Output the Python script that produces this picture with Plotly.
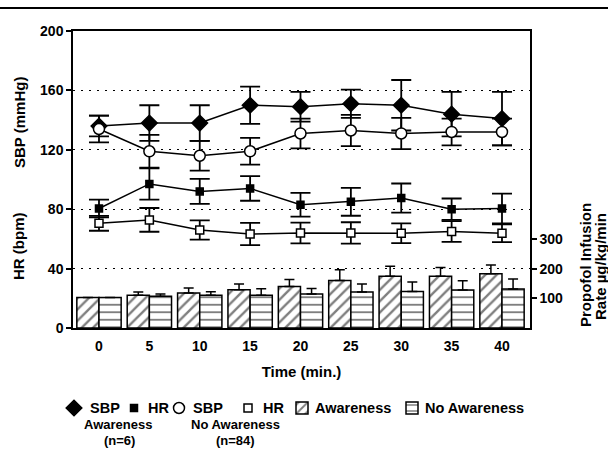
import plotly.graph_objects as go

# ---------------- data ----------------
time_min = [0, 5, 10, 15, 20, 25, 30, 35, 40]

sbp_aware = [136, 138, 138, 150, 149, 151, 150, 144, 141]
sbp_aware_err = [7, 12, 12, 12.5, 10, 9.5, 17, 15, 18]
hr_aware = [80.5, 97, 92, 94, 83, 85, 87.5, 80, 80.5]
hr_aware_err = [6, 10.5, 8.4, 8.3, 8, 9.4, 9.8, 7.2, 10]

sbp_noaware = [134, 119, 116, 119, 131, 133, 131, 132, 132]
sbp_noaware_err = [9, 11, 10, 9, 10, 10.5, 10.5, 9, 9]
hr_noaware = [70.5, 72.8, 66, 63.3, 64, 64, 63.8, 65, 63.8]
hr_noaware_err = [5, 8, 6.5, 7.5, 7, 7.2, 6.7, 7, 6]

rate_aware = [103, 110, 118, 129, 140, 160, 174, 174, 183]
rate_aware_top = [103, 121, 135, 148, 163, 196, 208, 204, 212]
rate_noaware = [103, 106.5, 110, 110, 114.6, 121, 123, 128, 131]
rate_noaware_top = [103, 114.6, 122, 132, 133, 148, 155, 159, 165]

left_ticks = [0, 40, 80, 120, 160, 200]
right_ticks = [100, 200, 300]

legend_labels = ["SBP", "HR", "SBP", "HR", "Awareness", "No Awareness"]

FONT = "Liberation Sans, Arial, sans-serif"
BLACK = "#000000"

# plot-area geometry in pixels (for placing text in paper coords)
L, R, T, B = 73, 530, 31, 328
W, H = R - L, B - T


def px(x):
    return (x - L) / W


def py(y):
    return (B - y) / H


fig = go.Figure()

# ---------------- bars (propofol infusion rate, right axis) ----------------
fig.add_trace(go.Bar(
    x=time_min, y=rate_aware, name=" ", yaxis="y2", legend="legend5",
    marker=dict(color="white", line=dict(color=BLACK, width=1.5),
                pattern=dict(shape="/", fgcolor=BLACK, bgcolor="white", size=8, solidity=0.3)),
    error_y=dict(type="data", symmetric=False,
                 array=[t - v for t, v in zip(rate_aware_top, rate_aware)],
                 arrayminus=[0] * len(rate_aware), color=BLACK, thickness=1.5, width=5),
))
fig.add_trace(go.Bar(
    x=time_min, y=rate_noaware, name=" ", yaxis="y2", legend="legend6",
    marker=dict(color="white", line=dict(color=BLACK, width=1.5),
                pattern=dict(shape="-", fgcolor=BLACK, bgcolor="white", size=7.5, solidity=0.25)),
    error_y=dict(type="data", symmetric=False,
                 array=[t - v for t, v in zip(rate_noaware_top, rate_noaware)],
                 arrayminus=[0] * len(rate_noaware), color=BLACK, thickness=1.5, width=5),
))

# ---------------- lines (left axis) ----------------
for y in (hr_noaware, hr_aware, sbp_noaware, sbp_aware):
    fig.add_trace(go.Scatter(x=time_min, y=y, mode="lines", yaxis="y", showlegend=False,
                             line=dict(color=BLACK, width=1.5), hoverinfo="skip"))


def marker_trace(y, err, symbol, size, fill, legend):
    return go.Scatter(
        x=time_min, y=y, name=" ", mode="markers", yaxis="y", legend=legend,
        marker=dict(symbol=symbol, size=size, color=fill, line=dict(color=BLACK, width=1.5)),
        error_y=dict(type="data", array=err, color=BLACK, thickness=1.8, width=10),
    )


fig.add_trace(marker_trace(sbp_aware, sbp_aware_err, "diamond", 12, BLACK, "legend"))
fig.add_trace(marker_trace(hr_aware, hr_aware_err, "square", 7, BLACK, "legend2"))
fig.add_trace(marker_trace(hr_noaware, hr_noaware_err, "square", 8, "white", "legend4"))
fig.add_trace(marker_trace(sbp_noaware, sbp_noaware_err, "circle", 11, "white", "legend3"))

# ---------------- key: native legend symbols, one legend per entry ----------------
LEG_Y = 408
symbol_centers = [74, 134, 179, 248, 302, 412]
text_starts = [88, 146, 191, 261, 313, 423]
legend_keys = ["legend", "legend2", "legend3", "legend4", "legend5", "legend6"]
legend_layout = {}
for key, cx in zip(legend_keys, symbol_centers):
    legend_layout[key] = dict(
        orientation="h", x=px(cx - 20), xanchor="left", y=py(LEG_Y), yanchor="middle",
        font=dict(size=12, color=BLACK, family=FONT),
        itemwidth=30, bgcolor="rgba(0,0,0,0)", borderwidth=0,
    )

fig.update_layout(
    width=608, height=463,
    margin=dict(l=L, r=608 - R, t=T, b=463 - B),
    paper_bgcolor="white", plot_bgcolor="white",
    font=dict(family=FONT, size=14, color=BLACK, weight="bold"),
    barmode="group", bargap=0.12, bargroupgap=0,
    showlegend=True,
    xaxis=dict(range=[-2.58, 42.78], tickvals=time_min, ticks="", showgrid=False,
               zeroline=False, showline=True, linecolor=BLACK, linewidth=1.5, mirror=True,
               ticklabelstandoff=4,
               title=dict(text="Time (min.)", font=dict(size=15, weight="bold"), standoff=14),
               tickfont=dict(size=14, weight="bold")),
    yaxis=dict(range=[0, 200], tickvals=left_ticks, ticks="outside", ticklen=5,
               tickcolor=BLACK, tickwidth=1.5,
               showline=True, linecolor=BLACK, linewidth=1.5, zeroline=False,
               showgrid=True, gridcolor=BLACK, gridwidth=1, griddash="1.5px,6.5px",
               tickfont=dict(size=14, weight="bold")),
    yaxis2=dict(range=[0, 1000], tickvals=right_ticks, overlaying="y", side="right",
                ticks="outside", ticklen=5, tickcolor=BLACK, tickwidth=1.5,
                showline=True, linecolor=BLACK, linewidth=1.5, zeroline=False,
                showgrid=False, tickfont=dict(size=14, weight="bold")),
    **legend_layout,
)

# key labels
for text, x in zip(legend_labels, text_starts):
    fig.add_annotation(text=text, xref="paper", yref="paper", x=px(x), y=py(LEG_Y),
                       xanchor="left", yanchor="middle", showarrow=False,
                       font=dict(size=14.5, color=BLACK, weight="bold"))

annos = [
    ("SBP (mmHg)", 19, 123),
    ("HR (bpm)", 19, 246),
    ("Propofol Infusion", 585, 265),
    ("Rate µg/kg/min", 600, 267),
]
for text, x, y in annos:
    fig.add_annotation(text=text, xref="paper", yref="paper", x=px(x), y=py(y),
                       xanchor="center", yanchor="middle", textangle=-90,
                       showarrow=False, font=dict(size=15, color=BLACK, weight="bold"))

subs = [
    ("Awareness", 118, 424), ("(n=6)", 119, 440),
    ("No Awareness", 235, 424), ("(n=84)", 235, 440),
]
for text, x, y in subs:
    fig.add_annotation(text=text, xref="paper", yref="paper", x=px(x), y=py(y),
                       xanchor="center", yanchor="middle", showarrow=False,
                       font=dict(size=13, color=BLACK, weight="bold"))

# page rule at the top of the scanned figure
fig.add_shape(type="line", xref="paper", yref="paper",
              x0=px(0), x1=px(608), y0=py(8), y1=py(8),
              line=dict(color=BLACK, width=2))

fig.write_html("out.html")
